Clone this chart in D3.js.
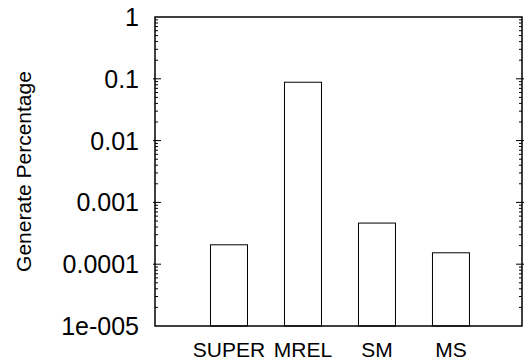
<!DOCTYPE html>
<html>
<head>
<meta charset="utf-8">
<script src="https://cdn.jsdelivr.net/npm/d3@7"></script>
<style>
  body { margin: 0; background: #fff; }
  text { font-family: "Liberation Sans", Arial, sans-serif; fill: #000; }
</style>
</head>
<body>
<div id="chart"></div>
<script>
// data
const categories = ['SUPER', 'MREL', 'SM', 'MS'];
const generatePercentage = [0.000206, 0.088, 0.000463, 0.000153];
const tickValues = [1e-5, 1e-4, 1e-3, 1e-2, 1e-1, 1];
const tickLabels = ['1e-005', '0.0001', '0.001', '0.01', '0.1', '1'];

const width = 526, height = 364;
const margin = {top: 17, right: 4, bottom: 38, left: 155};

const svg = d3.select('#chart').append('svg')
  .attr('width', width)
  .attr('height', height);

const x = d3.scaleLinear()
  .domain([-1, 3.96])
  .range([margin.left, width - margin.right]);

const y = d3.scaleLog()
  .domain([1e-5, 1])
  .range([height - margin.bottom, margin.top]);

// minor ticks 2..9 in each decade
const minorTicks = [];
for (let e = -5; e < 0; e++) {
  for (let m = 2; m <= 9; m++) minorTicks.push(m * Math.pow(10, e));
}

const x0 = margin.left, x1 = width - margin.right;
const ticks = svg.append('g').attr('stroke', '#000').attr('stroke-width', 1);

// major ticks, left and right (mirrored)
ticks.selectAll('line.maj-l')
  .data(tickValues.slice(1, -1))
  .enter().append('line')
  .attr('x1', x0 - 2).attr('x2', x0 + 6)
  .attr('y1', d => y(d)).attr('y2', d => y(d));
ticks.selectAll('line.maj-r')
  .data(tickValues.slice(1, -1))
  .enter().append('line')
  .attr('x1', x1 + 2).attr('x2', x1 - 6)
  .attr('y1', d => y(d)).attr('y2', d => y(d));

// minor ticks
ticks.selectAll('line.min-l')
  .data(minorTicks)
  .enter().append('line')
  .attr('x1', x0).attr('x2', x0 + 3)
  .attr('y1', d => y(d)).attr('y2', d => y(d));
ticks.selectAll('line.min-r')
  .data(minorTicks)
  .enter().append('line')
  .attr('x1', x1).attr('x2', x1 - 3)
  .attr('y1', d => y(d)).attr('y2', d => y(d));

// bars
const barW = x(0.5) - x(0);
svg.append('g')
  .selectAll('rect')
  .data(generatePercentage)
  .enter().append('rect')
  .attr('x', (d, i) => x(i) - barW / 2)
  .attr('y', d => y(d))
  .attr('width', barW)
  .attr('height', d => y(1e-5) - y(d))
  .attr('fill', 'none')
  .attr('stroke', '#000')
  .attr('stroke-width', 1);

// frame
svg.append('rect')
  .attr('x', x0)
  .attr('y', y(1))
  .attr('width', x1 - x0)
  .attr('height', y(1e-5) - y(1))
  .attr('fill', 'none')
  .attr('stroke', '#000')
  .attr('stroke-width', 1.5);

// y tick labels
svg.append('g')
  .selectAll('text')
  .data(tickValues)
  .enter().append('text')
  .attr('x', x0 - 16)
  .attr('y', d => y(d))
  .attr('dy', '0.36em')
  .attr('text-anchor', 'end')
  .style('font-size', '25px')
  .text((d, i) => tickLabels[i]);

// category labels
svg.append('g')
  .selectAll('text')
  .data(categories)
  .enter().append('text')
  .attr('x', (d, i) => x(i))
  .attr('y', height - 7)
  .attr('text-anchor', 'middle')
  .style('font-size', '21px')
  .text(d => d);

// y axis title
svg.append('text')
  .attr('transform', `translate(31,${(y(1) + y(1e-5)) / 2}) rotate(-90)`)
  .attr('text-anchor', 'middle')
  .style('font-size', '21px')
  .text('Generate Percentage');
</script>
</body>
</html>
